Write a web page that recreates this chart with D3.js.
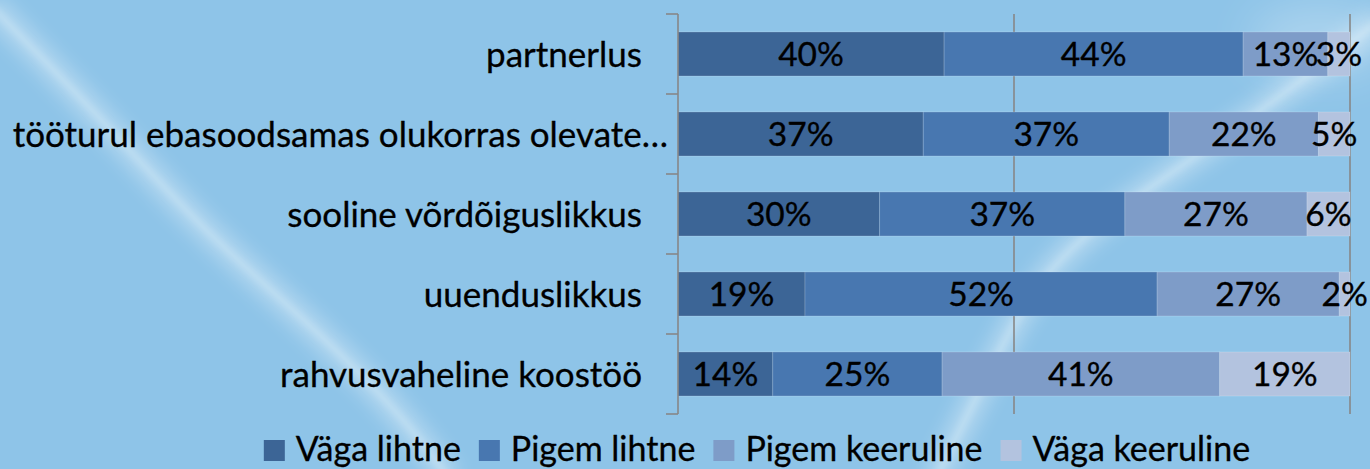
<!DOCTYPE html>
<html>
<head>
<meta charset="utf-8">
<script src="https://cdn.jsdelivr.net/npm/d3@7"></script>
<style>
  html, body { margin: 0; padding: 0; background: #8ec4e8; }
  svg { display: block; }
  text { font-family: Lato, "Noto Sans", sans-serif; }
</style>
</head>
<body>
<svg id="chart" width="1370" height="469"></svg>
<script>
// ---- data ----
const categories = [
  "partnerlus",
  "tööturul ebasoodsamas olukorras olevate…",
  "sooline võrdõiguslikkus",
  "uuenduslikkus",
  "rahvusvaheline koostöö"
];
const seriesNames = ["Väga lihtne", "Pigem lihtne", "Pigem keeruline", "Väga keeruline"];
const vagaLihtne     = [0.396, 0.365, 0.300, 0.189, 0.141];
const pigemLihtne    = [0.445, 0.366, 0.365, 0.524, 0.252];
const pigemKeeruline = [0.126, 0.222, 0.271, 0.271, 0.413];
const vagaKeeruline  = [0.033, 0.047, 0.064, 0.016, 0.194];
const xTicks = [0, 0.5, 1];

const colors = ["#3c6596", "#4877b0", "#7e9cc8", "#b3c3df"];

const svg = d3.select("#chart");
const W = 1370, H = 469;

// ---- background ----
const defs = svg.append("defs");
defs.append("filter").attr("id", "blur8").attr("x", "-50%").attr("y", "-50%").attr("width", "200%").attr("height", "200%")
  .append("feGaussianBlur").attr("stdDeviation", 9);
defs.append("filter").attr("id", "blur3").attr("x", "-50%").attr("y", "-50%").attr("width", "200%").attr("height", "200%")
  .append("feGaussianBlur").attr("stdDeviation", 3.5);
defs.append("filter").attr("id", "blur20").attr("x", "-50%").attr("y", "-50%").attr("width", "200%").attr("height", "200%")
  .append("feGaussianBlur").attr("stdDeviation", 22);

svg.append("rect").attr("width", W).attr("height", H).attr("fill", "#8ec4e8");

const line = d3.line().curve(d3.curveBasis);
const streakL = [[-10, 5], [100, 117], [200, 228], [300, 315], [400, 412], [450, 480]];
const streakR = [[935, 480], [985, 380], [1040, 270], [1130, 200], [1250, 120], [1380, 20]];
[streakL, streakR].forEach(pts => {
  svg.append("path").attr("d", line(pts)).attr("fill", "none")
    .attr("stroke", "#ffffff").attr("stroke-opacity", 0.3).attr("stroke-width", 26).attr("filter", "url(#blur8)");
  svg.append("path").attr("d", line(pts)).attr("fill", "none")
    .attr("stroke", "#e8f4fb").attr("stroke-opacity", 0.4).attr("stroke-width", 5).attr("filter", "url(#blur3)");
});
svg.append("ellipse").attr("cx", 1320).attr("cy", 40).attr("rx", 70).attr("ry", 35)
  .attr("fill", "#ffffff").attr("fill-opacity", 0.25).attr("filter", "url(#blur20)");

// ---- scales ----
const x = d3.scaleLinear().domain([0, 1]).range([678, 1350]);
const y = d3.scaleBand().domain(categories).range([14, 414]).paddingInner(0.45).paddingOuter(0.225);

const seriesData = [vagaLihtne, pigemLihtne, pigemKeeruline, vagaKeeruline];
const rows = categories.map((c, i) => {
  const r = { cat: c };
  seriesNames.forEach((s, j) => r[s] = seriesData[j][i]);
  return r;
});
const stacked = d3.stack().keys(seriesNames)(rows);

// ---- gridlines ----
svg.append("g").selectAll("line").data(xTicks.filter(t => t > 0)).join("line")
  .attr("x1", d => x(d)).attr("x2", d => x(d))
  .attr("y1", 14).attr("y2", 414)
  .attr("stroke", "#878787").attr("stroke-width", 1.6);

// ---- bars ----
const fmt = d3.format(".0%");
stacked.forEach((layer, li) => {
  svg.append("g").selectAll("rect").data(layer).join("rect")
    .attr("x", d => x(d[0]))
    .attr("y", d => y(d.data.cat))
    .attr("width", d => x(d[1]) - x(d[0]))
    .attr("height", y.bandwidth())
    .attr("fill", colors[li])
    .attr("stroke", "#ffffff").attr("stroke-opacity", 0.18).attr("stroke-width", 1);
});
stacked.forEach((layer, li) => {
  svg.append("g").selectAll("text").data(layer).join("text")
    .attr("x", d => (x(d[0]) + x(d[1])) / 2)
    .attr("y", d => y(d.data.cat) + y.bandwidth() / 2)
    .attr("dy", "0.37em")
    .attr("text-anchor", "middle")
    .attr("font-size", 33.5)
    .attr("fill", "#000").attr("stroke", "#000").attr("stroke-width", 0.35)
    .text(d => fmt(d[1] - d[0]));
});

// ---- y axis ----
const step = y.step();
const gap = step - y.bandwidth();
const bounds = categories.map(c => y(c) - gap / 2).concat([y(categories[categories.length - 1]) + y.bandwidth() + gap / 2]);
const axisG = svg.append("g");
axisG.append("line").attr("x1", x(0)).attr("x2", x(0)).attr("y1", bounds[0]).attr("y2", bounds[bounds.length - 1])
  .attr("stroke", "#878787").attr("stroke-width", 1.6);
axisG.selectAll("line.tick").data(bounds).join("line").attr("class", "tick")
  .attr("x1", x(0) - 12).attr("x2", x(0)).attr("y1", d => d).attr("y2", d => d)
  .attr("stroke", "#878787").attr("stroke-width", 1.6);
axisG.selectAll("text").data(categories).join("text")
  .attr("x", d => d.endsWith("…") ? x(0) - 10 : x(0) - 36)
  .attr("y", d => y(d) + y.bandwidth() / 2)
  .attr("dy", "0.36em")
  .attr("text-anchor", "end")
  .attr("font-size", 35)
  .attr("fill", "#000").attr("stroke", "#000").attr("stroke-width", 0.3)
  .text(d => d);

// ---- legend ----
const legend = svg.append("g");
const items = legend.selectAll("g").data(seriesNames).join("g");
items.append("rect").attr("width", 21).attr("height", 21).attr("y", 440)
  .attr("fill", (d, i) => colors[i]);
items.append("text").attr("x", 32).attr("y", 461).attr("font-size", 34)
  .attr("fill", "#000").attr("stroke", "#000").attr("stroke-width", 0.3).text(d => d);
let cx = 0;
const offs = [];
items.each(function () {
  const w = d3.select(this).select("text").node().getComputedTextLength();
  offs.push(cx);
  cx += 32 + w + 18;
});
const totalW = cx - 18;
const start = 757 - totalW / 2;
items.attr("transform", (d, i) => `translate(${start + offs[i]},0)`);
</script>
</body>
</html>
